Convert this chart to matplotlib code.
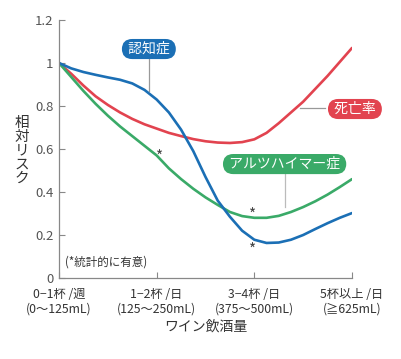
import numpy as np
import matplotlib.pyplot as plt

plt.rcParams['font.family'] = ['Noto Sans CJK JP', 'DejaVu Sans']

# drinking level (0 = 0-1/week, 1 = 1-2/day, 2 = 3-4/day, 3 = 5+/day)
x = [0, 0.125, 0.25, 0.375, 0.5, 0.625, 0.75, 0.875, 1.0, 1.125, 1.25, 1.375, 1.5,
     1.625, 1.75, 1.875, 2.0, 2.125, 2.25, 2.375, 2.5, 2.625, 2.75, 2.875, 3.0]

dementia = [1.0, 0.975, 0.958, 0.945, 0.933, 0.922, 0.905, 0.875, 0.83, 0.77, 0.69, 0.59, 0.47,
            0.36, 0.285, 0.22, 0.178, 0.163, 0.165, 0.178, 0.2, 0.228, 0.255, 0.28, 0.302]
mortality = [1.0, 0.95, 0.895, 0.845, 0.805, 0.77, 0.74, 0.715, 0.695, 0.675, 0.66, 0.646, 0.636,
             0.63, 0.628, 0.632, 0.645, 0.675, 0.72, 0.77, 0.82, 0.88, 0.94, 1.005, 1.07]
alzheimer = [1.0, 0.935, 0.87, 0.81, 0.755, 0.705, 0.66, 0.615, 0.57, 0.51, 0.46, 0.415, 0.375,
             0.34, 0.307, 0.288, 0.28, 0.28, 0.289, 0.307, 0.33, 0.357, 0.388, 0.423, 0.46]

xticks = [0, 1, 2, 3]
xticklabels = ["0−1杯 /週\n(0〜125mL)", "1−2杯 /日\n(125〜250mL)",
               "3−4杯 /日\n(375〜500mL)", "5杯以上 /日\n(≧625mL)"]
yticks = [0, 0.2, 0.4, 0.6, 0.8, 1.0, 1.2]
yticklabels = ["0", "0.2", "0.4", "0.6", "0.8", "1", "1.2"]

# significant points (*)
sig_x = [1.03, 1.98, 1.98]
sig_y = [0.586, 0.316, 0.153]

BLUE = "#1b6fb5"
RED = "#e2434f"
GREEN = "#3aaa68"
GRAY = "#555555"

fig = plt.figure(figsize=(4.02, 3.59), dpi=100)
ax = fig.add_axes([0.1468, 0.2256, 0.7288, 0.7187])

ax.plot(x, mortality, color=RED, lw=1.9, solid_capstyle="round")
ax.plot(x, alzheimer, color=GREEN, lw=1.9, solid_capstyle="round")
ax.plot(x, dementia, color=BLUE, lw=1.9, solid_capstyle="round")

# the '*' glyph sits high in its box, so offset it down a little
for sx, sy in zip(sig_x, sig_y):
    ax.annotate("*", (sx, sy), xytext=(0, -4), textcoords="offset points",
                ha="center", va="center", fontsize=11, color="#444444", zorder=5)

ax.set_xlim(0, 3)
ax.set_ylim(0, 1.2)
ax.set_xticks(xticks)
ax.set_xticklabels(xticklabels, fontsize=8.8, color="#333333", linespacing=1.2)
ax.set_yticks(yticks)
ax.set_yticklabels(yticklabels, fontsize=9.5, color=GRAY)
ax.tick_params(axis="both", direction="in", length=4, color="#888888", width=0.8)
ax.tick_params(axis="x", pad=7)
ax.tick_params(axis="y", pad=4)
for s in ["top", "right"]:
    ax.spines[s].set_visible(False)
for s in ["left", "bottom"]:
    ax.spines[s].set_color("#888888")
    ax.spines[s].set_linewidth(0.9)

ax.set_xlabel("ワイン飲酒量", fontsize=10, color="#333333", labelpad=3)
fig.text(0.055, 0.58, "\n".join("相対リスク"), ha="center", va="center",
         fontsize=10.5, color="#333333", linespacing=1.0)

ax.text(0.06, 0.074, "(*統計的に有意)", fontsize=8.3, color="#333333", va="center")

# callout labels
pill = dict(boxstyle="round,pad=0.22,rounding_size=0.75", ec="none")

ax.plot([0.92, 0.92], [1.02, 0.872], color="#999999", lw=0.9)
ax.text(0.92, 1.065, " 認知症 ", ha="center", va="center", fontsize=10, color="white",
        bbox=dict(pill, fc=BLUE))

ax.plot([2.47, 2.72], [0.79, 0.79], color="#999999", lw=0.9)
ax.text(3.03, 0.786, " 死亡率 ", ha="center", va="center", fontsize=10, color="white",
        bbox=dict(pill, fc=RED))

ax.plot([2.31, 2.31], [0.49, 0.328], color="#bbbbbb", lw=0.9)
ax.text(2.31, 0.53, " アルツハイマー症 ", ha="center", va="center", fontsize=10, color="white",
        bbox=dict(pill, fc=GREEN))

fig.savefig("out.png", dpi=100)
